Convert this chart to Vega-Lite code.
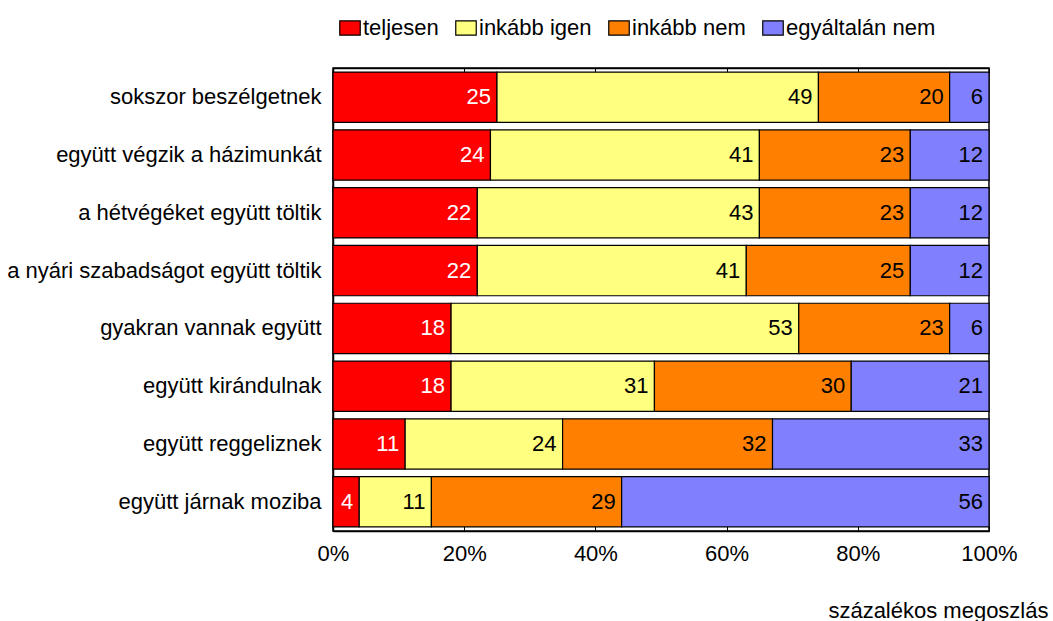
{
  "$schema": "https://vega.github.io/schema/vega-lite/v6.json",
  "autosize": {"type": "none"},
  "width": 656,
  "height": 463,
  "padding": {"left": 333, "top": 68, "right": 64, "bottom": 90},
  "background": "white",
  "config": {
    "font": "Liberation Sans, Arial, sans-serif",
    "view": {"stroke": "black", "strokeWidth": 1.5},
    "axis": {"labelFont": "Liberation Sans, Arial, sans-serif", "labelFontSize": 22, "labelColor": "black", "labelLimit": 0, "grid": false, "domainColor": "black", "tickColor": "black"},
    "legend": {"labelFont": "Liberation Sans, Arial, sans-serif", "labelFontSize": 22, "labelColor": "black", "labelLimit": 0}
  },
  "data": {
    "values": [
      {"item": "sokszor beszélgetnek", "cat": "teljesen", "ord": 1, "v": 25},
      {"item": "sokszor beszélgetnek", "cat": "inkább igen", "ord": 2, "v": 49},
      {"item": "sokszor beszélgetnek", "cat": "inkább nem", "ord": 3, "v": 20},
      {"item": "sokszor beszélgetnek", "cat": "egyáltalán nem", "ord": 4, "v": 6},
      {"item": "együtt végzik a házimunkát", "cat": "teljesen", "ord": 1, "v": 24},
      {"item": "együtt végzik a házimunkát", "cat": "inkább igen", "ord": 2, "v": 41},
      {"item": "együtt végzik a házimunkát", "cat": "inkább nem", "ord": 3, "v": 23},
      {"item": "együtt végzik a házimunkát", "cat": "egyáltalán nem", "ord": 4, "v": 12},
      {"item": "a hétvégéket együtt töltik", "cat": "teljesen", "ord": 1, "v": 22},
      {"item": "a hétvégéket együtt töltik", "cat": "inkább igen", "ord": 2, "v": 43},
      {"item": "a hétvégéket együtt töltik", "cat": "inkább nem", "ord": 3, "v": 23},
      {"item": "a hétvégéket együtt töltik", "cat": "egyáltalán nem", "ord": 4, "v": 12},
      {"item": "a nyári szabadságot együtt töltik", "cat": "teljesen", "ord": 1, "v": 22},
      {"item": "a nyári szabadságot együtt töltik", "cat": "inkább igen", "ord": 2, "v": 41},
      {"item": "a nyári szabadságot együtt töltik", "cat": "inkább nem", "ord": 3, "v": 25},
      {"item": "a nyári szabadságot együtt töltik", "cat": "egyáltalán nem", "ord": 4, "v": 12},
      {"item": "gyakran vannak együtt", "cat": "teljesen", "ord": 1, "v": 18},
      {"item": "gyakran vannak együtt", "cat": "inkább igen", "ord": 2, "v": 53},
      {"item": "gyakran vannak együtt", "cat": "inkább nem", "ord": 3, "v": 23},
      {"item": "gyakran vannak együtt", "cat": "egyáltalán nem", "ord": 4, "v": 6},
      {"item": "együtt kirándulnak", "cat": "teljesen", "ord": 1, "v": 18},
      {"item": "együtt kirándulnak", "cat": "inkább igen", "ord": 2, "v": 31},
      {"item": "együtt kirándulnak", "cat": "inkább nem", "ord": 3, "v": 30},
      {"item": "együtt kirándulnak", "cat": "egyáltalán nem", "ord": 4, "v": 21},
      {"item": "együtt reggeliznek", "cat": "teljesen", "ord": 1, "v": 11},
      {"item": "együtt reggeliznek", "cat": "inkább igen", "ord": 2, "v": 24},
      {"item": "együtt reggeliznek", "cat": "inkább nem", "ord": 3, "v": 32},
      {"item": "együtt reggeliznek", "cat": "egyáltalán nem", "ord": 4, "v": 33},
      {"item": "együtt járnak moziba", "cat": "teljesen", "ord": 1, "v": 4},
      {"item": "együtt járnak moziba", "cat": "inkább igen", "ord": 2, "v": 11},
      {"item": "együtt járnak moziba", "cat": "inkább nem", "ord": 3, "v": 29},
      {"item": "együtt járnak moziba", "cat": "egyáltalán nem", "ord": 4, "v": 56}
    ]
  },
  "transform": [
    {"stack": "v", "groupby": ["item"], "sort": [{"field": "ord", "order": "ascending"}], "as": ["v0", "v1"]}
  ],
  "encoding": {
    "y": {
      "field": "item", "type": "nominal", "sort": null,
      "scale": {"paddingInner": 0.13, "paddingOuter": 0.07},
      "axis": {"title": null, "ticks": false, "labelPadding": 12, "domain": true, "domainWidth": 1.5}
    }
  },
  "layer": [
    {
      "mark": {"type": "bar", "stroke": "black", "strokeWidth": 1.2},
      "encoding": {
        "x": {
          "field": "v0", "type": "quantitative",
          "scale": {"domain": [0, 100], "nice": false},
          "axis": {"values": [0, 20, 40, 60, 80, 100], "labelExpr": "datum.value + '%'", "labelFlush": false, "labelBound": false, "labelOverlap": false, "tickSize": -5, "labelPadding": 17, "domainWidth": 1.5,
                   "title": "százalékos megoszlás", "titleFont": "Liberation Sans, Arial, sans-serif", "titleFontSize": 22, "titleFontWeight": "normal", "titleColor": "black", "titleAnchor": "end", "titleAlign": "right", "titleX": 715, "titleY": 79, "titleBaseline": "middle"}
        },
        "x2": {"field": "v1"},
        "color": {
          "field": "cat", "type": "nominal",
          "scale": {"domain": ["teljesen", "inkább igen", "inkább nem", "egyáltalán nem"], "range": ["#FF0000", "#FFFF80", "#FF8000", "#8080FF"]},
          "legend": {"title": null, "orient": "none", "legendX": 6, "legendY": -51, "direction": "horizontal", "columnPadding": 14, "labelOffset": 2, "symbolType": "M-1,-0.7H1V0.7H-1Z", "symbolSize": 420, "symbolStrokeColor": "black", "symbolStrokeWidth": 1.2, "symbolOpacity": 1}
        }
      }
    },
    {
      "mark": {"type": "bar", "opacity": 0},
      "encoding": {
        "x": {"field": "v0", "type": "quantitative", "scale": {"domain": [0, 100], "nice": false}, "axis": {"orient": "top", "labels": false, "title": null, "values": [0, 20, 40, 60, 80, 100], "tickSize": -5, "domainWidth": 1.5}},
        "x2": {"field": "v1"}
      }
    },
    {
      "mark": {"type": "text", "align": "right", "baseline": "middle", "dx": -6, "fontSize": 22, "font": "Liberation Sans, Arial, sans-serif"},
      "encoding": {
        "x": {"field": "v1", "type": "quantitative", "scale": {"domain": [0, 100], "nice": false}, "axis": null},
        "text": {"field": "v", "type": "quantitative"},
        "color": {"condition": {"test": "datum.cat === 'teljesen'", "value": "white"}, "value": "black"}
      }
    }
  ],
  "resolve": {"axis": {"x": "independent"}}
}
